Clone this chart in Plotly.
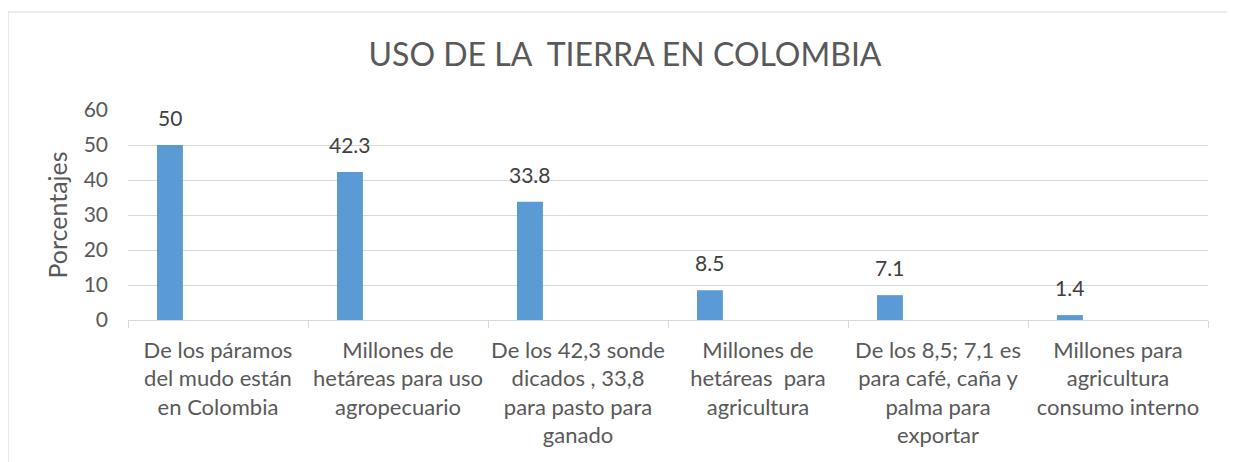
import plotly.graph_objects as go

categories = [
    "De los páramos<br>del mudo están<br>en Colombia",
    "Millones de<br>hetáreas para uso<br>agropecuario",
    "De los 42,3 sonde<br>dicados , 33,8<br>para pasto para<br>ganado",
    "Millones de<br>hetáreas  para<br>agricultura",
    "De los 8,5; 7,1 es<br>para café, caña y<br>palma para<br>exportar",
    "Millones para<br>agricultura<br>consumo interno",
]
values = [50, 42.3, 33.8, 8.5, 7.1, 1.4]
value_labels = ["50", "42.3", "33.8", "8.5", "7.1", "1.4"]
y_ticks = [0, 10, 20, 30, 40, 50, 60]

FONT = "Lato"
GRAY = "#595959"
GRID = "#d9d9d9"

# page has an 8px body margin
W, H = 1227, 454
ML, MR, MT, MB = 120, 27, 102, 142
PW, PH = W - ML - MR, H - MT - MB

BAR_W = 0.144
BAR_OFF = -0.339

fig = go.Figure()
fig.add_trace(go.Bar(
    x=categories, y=values,
    width=BAR_W, offset=BAR_OFF,
    marker=dict(color="#5b9bd5", line=dict(width=0)),
    hoverinfo="skip",
))

for c, v, t in zip(categories, values, value_labels):
    fig.add_annotation(
        x=c, y=v, text=t, showarrow=False,
        xanchor="center", yanchor="bottom",
        xshift=(BAR_OFF + BAR_W / 2) * PW / len(categories),
        yshift=13,
        font=dict(family=FONT, size=21, color="#404040"),
    )

def px_x(px):
    return (px - ML) / PW

def px_y(py):
    return 1 - (py - MT) / PH

fig.add_shape(type="rect", xref="paper", yref="paper",
              x0=px_x(0), x1=px_x(W + 20), y0=px_y(4), y1=px_y(H + 20),
              line=dict(color=GRID, width=1.2), fillcolor="rgba(0,0,0,0)", layer="below")

fig.update_layout(
    width=W, height=H,
    margin=dict(l=ML, r=MR, t=MT, b=MB, pad=0, autoexpand=False),
    paper_bgcolor="white", plot_bgcolor="white",
    showlegend=False,
    title=dict(text="USO DE LA \u00a0TIERRA EN COLOMBIA", x=617 / W, xanchor="center",
               y=1 - 47 / H, yanchor="middle",
               font=dict(family=FONT, size=32, color=GRAY)),
    font=dict(family=FONT, color=GRAY),
)

fig.update_xaxes(
    type="category", categoryorder="array", categoryarray=categories,
    tickson="boundaries", ticks="outside", ticklen=7, tickcolor=GRID, tickwidth=1,
    showline=True, linecolor=GRID, linewidth=1.2,
    showgrid=False, zeroline=False,
    tickangle=0, automargin=False,
    tickfont=dict(family=FONT, size=22, color=GRAY),
    ticklabelstandoff=10,
    range=[-0.5, len(categories) - 0.5],
)
fig.update_yaxes(
    range=[0, 60], tickvals=y_ticks, ticktext=[str(t) for t in y_ticks],
    showgrid=True, gridcolor=GRID, gridwidth=1.2,
    zeroline=False, showline=False, ticks="",
    automargin=False,
    tickfont=dict(family=FONT, size=21, color=GRAY),
    ticklabelstandoff=19,
    title=dict(text="Porcentajes", font=dict(family=FONT, size=25, color=GRAY), standoff=8),
)

fig.write_html("out.html")
